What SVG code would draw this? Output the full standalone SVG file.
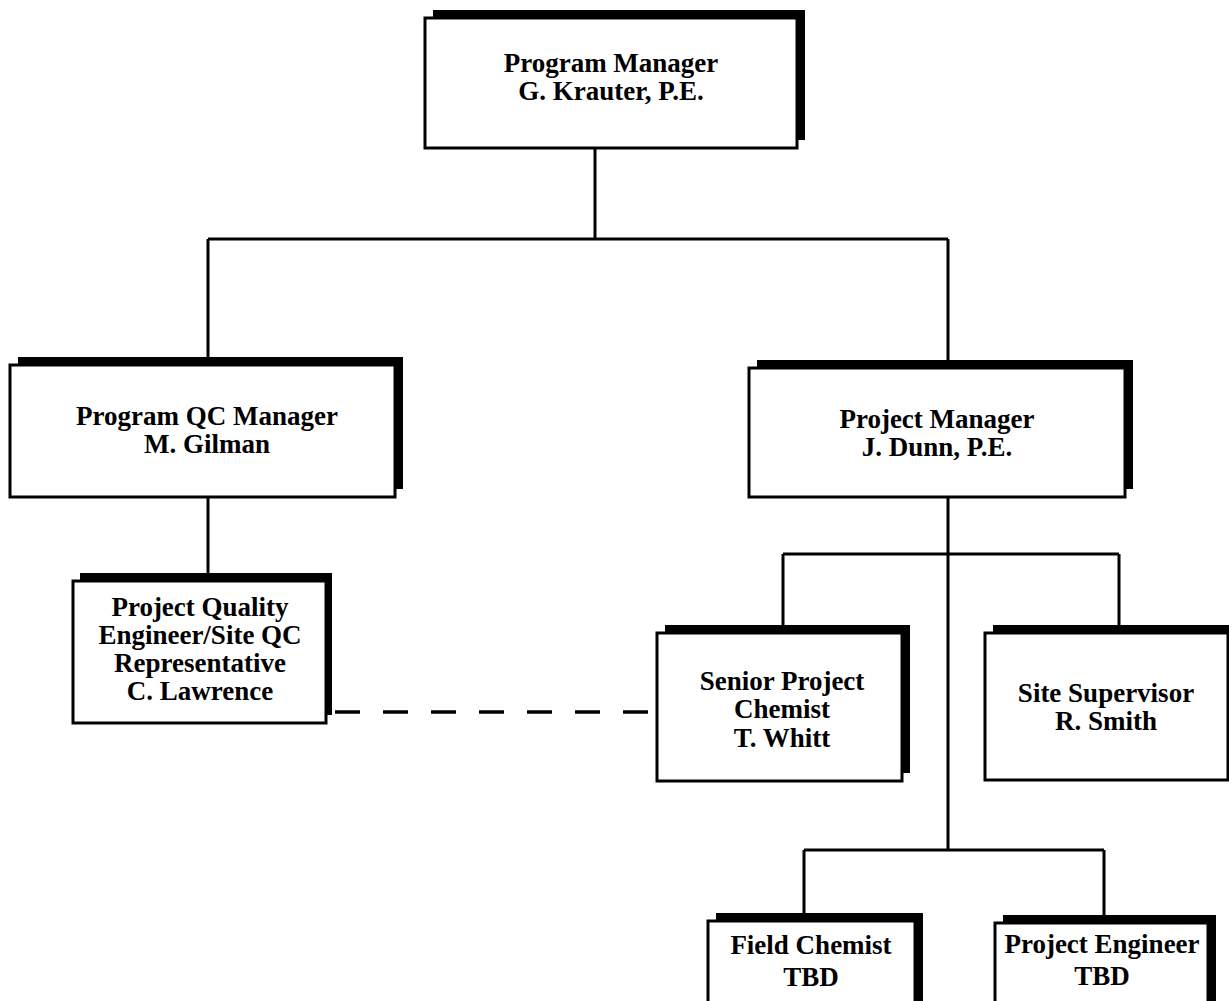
<svg xmlns="http://www.w3.org/2000/svg" width="1229" height="1001" viewBox="0 0 1229 1001">
<style>
.sh{fill:#000}
.bx{fill:#fff;stroke:#000;stroke-width:3}
.ln{fill:none;stroke:#000;stroke-width:3}
.dl{fill:none;stroke:#000;stroke-width:3.5;stroke-dasharray:25 23}
text{font-family:"Liberation Serif","Times New Roman",serif;font-weight:bold;font-size:27px;text-anchor:middle;fill:#000}
</style>
<rect width="1229" height="1001" fill="#fff"/>
<g id="connectors">
<path class="ln" d="M595,148V239M208,239H948M208,239V357M948,239V360"/>
<path class="ln" d="M208,497V574"/>
<path class="ln" d="M948,497V850M783,554H1119M783,554V625M1119,554V625"/>
<path class="ln" d="M804,850H1104M804,850V913M1104,850V915"/>
<path class="dl" d="M332,712H656" stroke-dashoffset="-3"/>
</g>
<g id="program-manager">
<rect class="sh" x="433" y="10" width="372" height="130"/>
<rect class="bx" x="425" y="18" width="372" height="130"/>
<text x="611" y="72">Program Manager</text>
<text x="611" y="100">G. Krauter, P.E.</text>
</g>
<g id="program-qc-manager">
<rect class="sh" x="18" y="357" width="385" height="132"/>
<rect class="bx" x="10" y="365" width="385" height="132"/>
<text x="207" y="425">Program QC Manager</text>
<text x="207" y="453">M. Gilman</text>
</g>
<g id="project-manager">
<rect class="sh" x="757" y="360" width="376" height="129"/>
<rect class="bx" x="749" y="368" width="376" height="129"/>
<text x="937" y="428">Project Manager</text>
<text x="937" y="456">J. Dunn, P.E.</text>
</g>
<g id="project-quality-engineer">
<rect class="sh" x="80" y="573" width="252" height="142"/>
<rect class="bx" x="73" y="581" width="253" height="142"/>
<text x="200" y="616">Project Quality</text>
<text x="200" y="644">Engineer/Site QC</text>
<text x="200" y="672">Representative</text>
<text x="200" y="700">C. Lawrence</text>
</g>
<g id="senior-project-chemist">
<rect class="sh" x="665" y="625" width="245" height="148"/>
<rect class="bx" x="657" y="633" width="245" height="148"/>
<text x="782" y="690">Senior Project</text>
<text x="782" y="718">Chemist</text>
<text x="782" y="747">T. Whitt</text>
</g>
<g id="site-supervisor">
<rect class="sh" x="993" y="625" width="243" height="147"/>
<rect class="bx" x="985" y="633" width="243" height="147"/>
<text x="1106" y="702">Site Supervisor</text>
<text x="1106" y="730">R. Smith</text>
</g>
<g id="field-chemist">
<rect class="sh" x="716" y="913" width="207" height="100"/>
<rect class="bx" x="708" y="921" width="207" height="100"/>
<text x="811" y="954">Field Chemist</text>
<text x="811" y="986">TBD</text>
</g>
<g id="project-engineer">
<rect class="sh" x="1003" y="915" width="213" height="100"/>
<rect class="bx" x="995" y="923" width="213" height="100"/>
<text x="1102" y="953">Project Engineer</text>
<text x="1102" y="985">TBD</text>
</g>
</svg>
